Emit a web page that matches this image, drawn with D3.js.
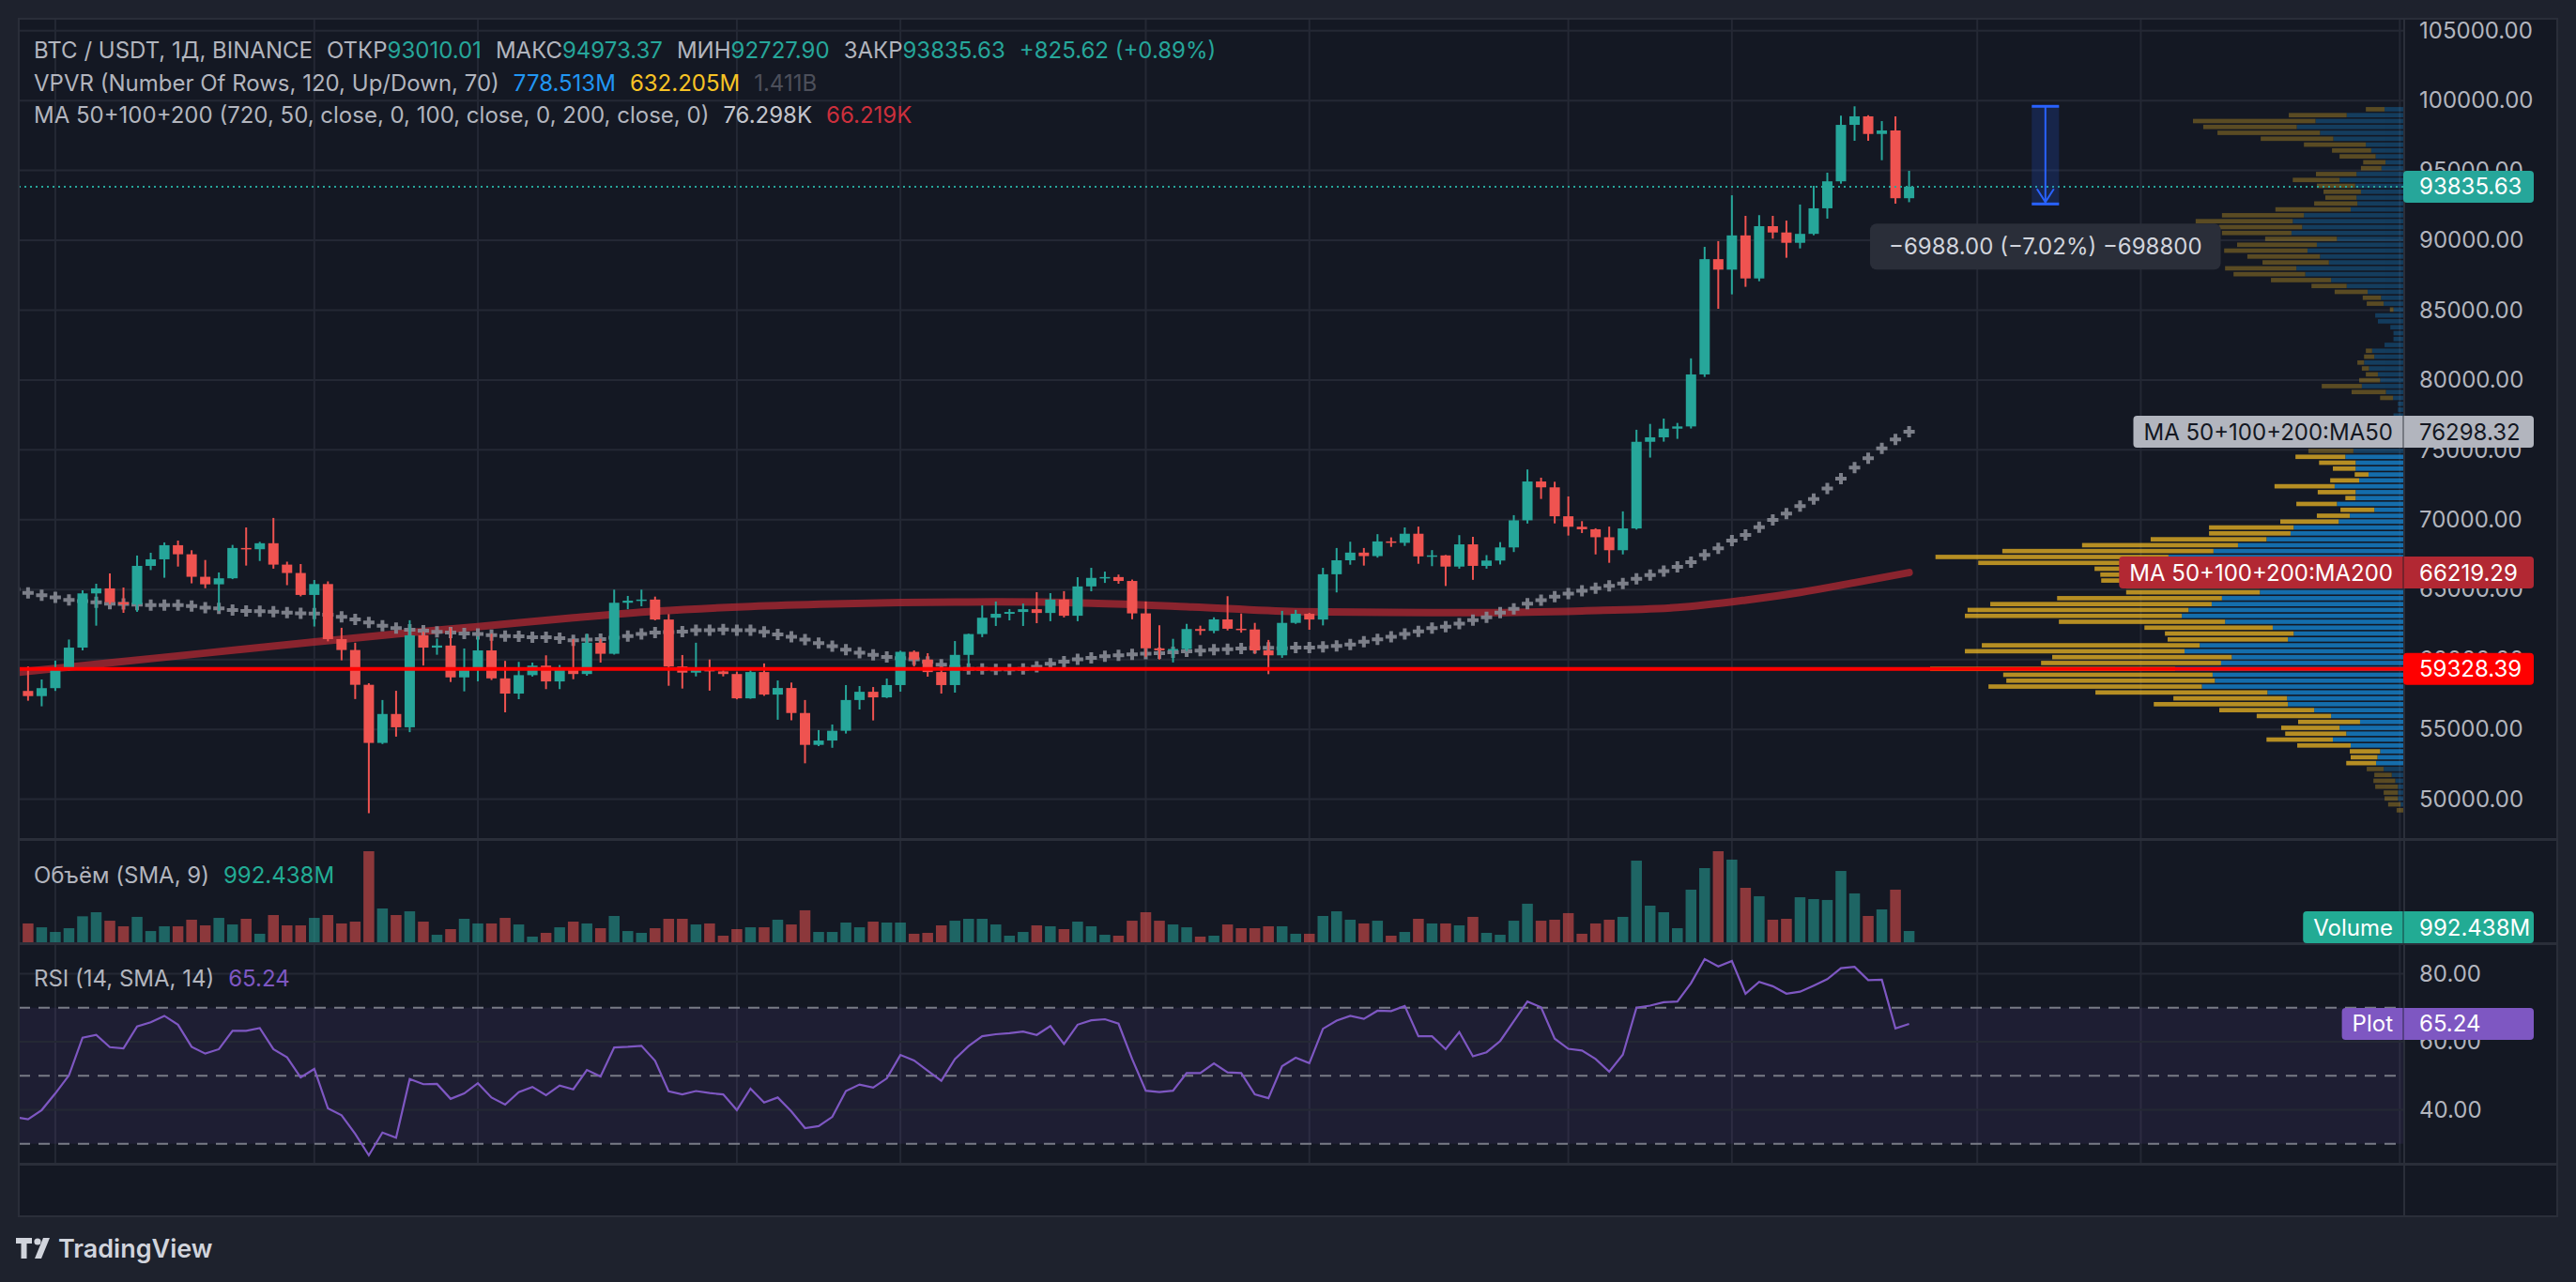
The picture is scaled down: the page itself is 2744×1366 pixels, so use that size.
<!DOCTYPE html>
<html>
<head>
<meta charset="utf-8">
<script src="https://cdn.jsdelivr.net/npm/d3@7"></script>
<style>
  body { margin: 0; background: #1e222d; overflow: hidden; }
  svg { display: block; font-family: Inter, Roboto, "Noto Sans", sans-serif; }
</style>
</head>
<body>
<svg id="chart"></svg>
<script>
// ---- data (BTC/USDT daily, 2024-07-10 .. 2024-11-26) ----
const firstDay = "2024-07-10";
const opens = [58250,57750,57380,57950,59240,60850,64730,65090,64100,63950,66700,67170,68180,67530,65920,65380,65810,67980,67890,68320,66790,66190,
  64620,65400,61460,60680,58190,54030,56100,55150,61730,60850,61000,58720,59280,60650,58650,57560,58880,59560,58430,59310,58960,61200,60410,64060,64210,64290,62860,59500,59060,59310,59150,
  58960,57220,59100,57490,57960,56170,53890,54200,54900,57100,57690,57290,58170,60550,60000,59100,58170,60330,61820,62990,63270,63400,63600,63330,64290,63130,65230,65840,65900,65620,
  63300,60800,60650,60750,62180,62050,62870,62200,62150,60650,60300,62620,63270,62860,66100,67100,67650,67400,68450,68350,69000,67380,67450,66650,68240,66700,67080,68020,69960,72740,72320,
  70250,69500,69320,68750,67820,69380,75580,75900,76520,76680,80400,88650,87900,90350,87270,91010,90560,89820,90460,92290,94220,98260,98870,97610,97860,93010.01];
const highs = [59450,59500,58570,59920,61430,64950,65420,66160,65150,67440,67640,68380,68510,67820,67120,66230,68200,69450,68420,70130,67000,66830,
  65690,65590,62270,61200,58300,57100,57760,62810,61980,61500,62270,60790,61640,61840,59900,59830,59780,60300,59600,61460,61840,61480,65000,64550,65000,64500,63250,60320,61200,60000,59360,
  59130,59400,59720,58500,58350,57100,54950,55350,58170,58100,58030,58640,60630,60650,60450,59500,61320,61850,63870,64150,63610,64000,64820,64750,64890,65890,66560,66290,66080,65720,
  64150,62450,61480,62550,62420,63020,64530,63290,62620,61400,63480,63550,63340,66560,67980,68430,67980,68970,68740,69450,69510,67830,67480,68900,68780,67470,68400,70330,73600,73010,72720,
  71670,69900,69390,69510,70600,76440,76860,77240,76930,81550,89530,89940,93220,91750,91800,91750,91410,92560,93900,94840,98920,99588.01,98950,98530,98870,94973.37];
const lows = [57150,57050,56650,57750,59200,60650,62420,63950,63340,63410,66400,65850,66650,65450,65100,63480,65750,66720,67050,66500,65320,64520,
  62360,61300,59940,57170,49000,53950,54480,54800,59570,60340,58390,57720,58440,58530,56220,57160,58780,57880,57880,58590,58840,59780,60350,63600,63810,62800,58120,57920,58790,57770,58790,
  57150,57190,57400,55690,55650,52570,53800,53680,54700,56420,55640,57240,57700,59500,58770,57560,57630,59200,61600,62400,62800,62400,62600,62740,63010,62740,64880,65480,65420,62880,
  60190,60000,59790,60600,61750,61880,62080,61920,60400,58950,60120,62550,62130,62440,64800,66780,66720,67290,68060,68130,66850,66680,65260,66500,65700,66500,66800,67690,69730,71490,69740,
  68870,69050,67520,66920,67520,69300,74450,75590,75790,76530,80220,85100,86130,86670,87070,90120,88750,89420,90360,91550,94050,97120,97120,95730,92620,92727.90];
const closes = [57750,57380,57950,59240,60850,64730,65090,64100,63950,66700,67170,68180,67530,65920,65380,65810,67980,67890,68320,66790,66190,64620,
  65400,61460,60680,58190,54030,56100,55150,61730,60850,61000,58720,59280,60650,58650,57560,58880,59560,58430,59310,58960,61200,60410,64060,64210,64290,62860,59500,59060,59310,59150,58960,
  57220,59100,57490,57960,56170,53890,54200,54900,57100,57690,57290,58170,60550,60000,59100,58170,60330,61820,62990,63270,63400,63600,63330,64290,63130,65230,65840,65900,65620,63300,
  60800,60650,60750,62180,62050,62870,62200,62150,60650,60300,62620,63270,62860,66100,67100,67650,67400,68450,68350,69000,67380,67450,66650,68240,66700,67080,68020,69960,72740,72320,70250,
  69500,69320,68750,67820,69380,75580,75900,76520,76680,80400,88650,87900,90350,87270,91010,90560,89820,90460,92290,94220,98260,98870,97610,97860,93010.01,93835.63];
// volume in billions USDT
const volumes = [1.38,1.66,1.32,0.91,1.24,2.29,2.65,1.90,1.41,2.24,0.99,1.41,1.41,1.99,1.49,2.15,1.57,2.07,0.75,2.40,1.49,1.49,
  2.15,2.40,1.66,1.82,8.03,2.98,2.40,2.73,1.82,0.66,1.16,2.07,1.66,1.66,2.15,1.57,0.50,0.83,1.32,1.82,1.66,1.24,2.32,0.99,0.83,1.24,2.07,2.07,1.57,1.66,0.58,
  1.16,1.32,1.32,1.99,1.57,2.82,0.91,0.91,1.74,1.32,1.82,1.74,1.74,0.75,0.83,1.49,1.90,2.07,2.07,1.57,0.58,0.91,1.49,1.41,1.16,1.82,1.41,0.66,0.58,1.90,
  2.65,1.90,1.57,1.32,0.50,0.58,1.57,1.24,1.24,1.41,1.41,0.75,0.75,2.32,2.73,1.99,1.66,1.90,0.58,0.91,2.07,1.66,1.66,1.49,2.24,0.83,0.66,1.90,3.40,1.90,1.99,
  2.57,0.75,1.66,1.99,2.24,7.20,3.23,2.65,1.24,4.64,6.54,8.03,7.29,4.80,4.06,1.99,2.07,3.97,3.81,3.73,6.29,4.31,2.32,2.90,4.64,0.992438];
const ma50 = [65040,64770,64600,64440,64260,64180,64100,63990,63980,63930,63900,63900,63890,63830,63700,63660,63540,63470,63460,63430,63360,63300,
  63290,63200,63050,62870,62650,62420,62250,62130,62070,61980,61930,61860,61820,61750,61680,61660,61600,61590,61530,61380,61420,61450,61560,61680,61820,61930,61960,62000,62090,62100,62150,
  62100,62090,61980,61800,61620,61420,61170,60950,60700,60480,60340,60190,60100,60010,59830,59620,59480,59330,59320,59290,59290,59320,59470,59700,59850,60010,60120,60230,60300,60370,
  60410,60450,60520,60590,60630,60700,60740,60790,60830,60830,60810,60850,60850,60900,60970,61080,61280,61440,61620,61820,62020,62250,62350,62560,62820,63020,63360,63630,63990,64240,64500,
  64710,64910,65110,65270,65440,65780,66050,66320,66630,66970,67480,67960,68510,68920,69470,69990,70440,70980,71490,72230,72950,73730,74400,75110,75740,76298.32];
const rsi = [37.9,37.2,39.9,44.8,50.1,61.2,62.0,58.4,58.0,64.5,65.7,67.6,65.0,58.5,56.5,57.8,63.2,63.2,64.0,57.8,55.4,49.5,
  52.0,40.4,38.4,32.9,26.6,33.3,31.8,49.0,47.5,47.6,43.2,44.8,47.8,43.6,41.5,45.2,46.7,44.3,47.1,46.0,51.7,49.8,58.3,58.5,58.8,54.4,45.4,44.5,45.5,44.9,44.5,
  39.9,46.2,42.1,43.6,39.5,34.6,35.2,37.9,45.5,47.4,46.5,49.2,56.1,54.5,51.5,48.5,54.9,58.7,61.6,62.2,62.5,63.0,62.0,64.6,59.3,65.0,66.3,66.6,65.3,54.9,
  45.6,45.2,45.6,50.8,50.8,53.6,51.0,50.8,44.5,43.4,52.8,55.3,53.7,63.8,66.2,67.6,66.7,69.1,69.0,70.5,61.6,61.6,57.8,62.8,55.7,56.9,60.2,66.0,71.8,70.1,60.9,
  57.9,57.4,54.9,51.2,56.2,70.0,70.6,71.6,71.8,77.2,84.3,82.1,83.7,74.1,77.6,76.3,74.1,74.7,76.5,78.4,81.6,82.0,78.1,78.2,63.9,65.24];
// MA200 at weekly points
const ma200Dates = ["2024-07-10","2024-07-17","2024-07-24","2024-08-01","2024-08-07","2024-08-13","2024-08-20","2024-08-26","2024-09-02","2024-09-08",
  "2024-09-13","2024-09-20","2024-09-27","2024-10-04","2024-10-12","2024-10-19","2024-10-26","2024-11-02","2024-11-09","2024-11-14","2024-11-18","2024-11-22","2024-11-26"];
const ma200Values = [59060,59760,60460,61250,61830,62350,62980,63450,63800,63980,64080,64120,64030,63780,63430,63370,63360,63480,63720,64250,64800,65500,66219.29];
// visible range volume profile, 120 rows, listed from the top row down
const vpHigh = 99588.03, vpLow = 49000;
const vpDown = [42,130,275,210,230,163,139,88,81,50, 46,91,105,86,84,70,97,169,184,218, 187,156,161,179,187,163,149,160,161,135,
  79,74,41,38,8,0,0,0,0,0, 0,14,23,15,16,27,47,90,77,29, 0,0,0,25,40,50,60,55,101,112, 82,51,31,65,135,85,23,91,76,74,
  131,190,183,260,350,474,523,464,293,300, 298,300,300,370,497,496,487,373,288,289, 270,489,493,403,404,550,470,468,479,386,
  255,301,213,167,139,131,137,149,120,68, 60,67,38,39,49,51,32,30,28,15];
const vpUp = [42,127,197,239,187,157,84,72,62,40, 49,105,143,108,95,105,103,118,223,248, 227,251,149,194,215,187,167,240,220,162,
  127,80,50,44,22,63,57,29,22,22, 42,70,65,88,77,57,52,93,39,23, 12,12,22,70,95,110,120,110,112,130, 107,107,78,99,154,107,107,149,65,120,
  145,246,253,307,371,426,527,490,400,380, 380,322,322,407,430,482,497,400,293,246, 259,457,491,385,409,512,428,423,452,305,
  261,259,200,162,97,143,128,158,118,52, 58,61,44,26,18,12,12,12,6,0];
const vaRows = [59, 111];
const vpLegend = ["778.513M", "632.205M", "1.411B"];
// axes
const priceTicks = [50000,55000,60000,65000,70000,75000,80000,85000,90000,95000,100000,105000];
const rsiTicks = [80,60,40];
const rsiBands = [70,50,30];
const timeTicks = ["2024-07-13","2024-08-01","2024-08-13","2024-09-01","2024-09-13","2024-10-01","2024-10-13","2024-11-01","2024-11-13","2024-12-01","2024-12-13","2025-01-01"];
const timeLabels = ["13","Авг","13","Сен","13","Окт","13","Ноя","13","Дек","13","2025"];
// measure drawing
const measurePrices = [99588, 92600];
const measureDates = ["2024-12-05","2024-12-07"];

// ---- layout ----
const W = 2744, H = 1366;
const frame = {left: 20, top: 20, right: 2724, bottom: 1296};
const plotRight = 2560;
const mainBottom = 894, volTop = 895, volBottom = 1005, rsiTop = 1006, rsiBottom = 1240;
const UP = "#26a69a", DOWN = "#ef5350", TXT = "#b2b5be", GRID = "#242834";
const FONT = "Inter, Roboto, 'Noto Sans', sans-serif";

const parse = s => new Date(s + "T00:00:00Z");
const days = opens.map((d, i) => d3.utcDay.offset(parse(firstDay), i));

const x = d3.scaleUtc()
  .domain([parse("2024-08-01"), parse("2024-12-01")])
  .range([334.8, 2106.2]);
const y = d3.scaleLinear().domain([50000, 105000]).range([851.6, 32.7]);
const yVol = d3.scaleLinear().domain([0, d3.max(volumes)]).range([1004, 907]);
const yRsi = d3.scaleLinear().domain([30, 70]).range([1218.7, 1073.7]);

const svg = d3.select("#chart").attr("width", W).attr("height", H);
svg.append("rect").attr("width", W).attr("height", H).attr("fill", "#1e222d");
svg.append("rect")
  .attr("x", frame.left).attr("y", frame.top)
  .attr("width", frame.right - frame.left).attr("height", frame.bottom - frame.top)
  .attr("fill", "#141823").attr("stroke", "#2a2e39").attr("stroke-width", 2);

const defs = svg.append("defs");
function clip(id, x0, y0, x1, y1) {
  defs.append("clipPath").attr("id", id).append("rect")
    .attr("x", x0).attr("y", y0).attr("width", x1 - x0).attr("height", y1 - y0);
}
clip("mainClip", frame.left + 1, frame.top + 1, plotRight, mainBottom);
clip("volClip", frame.left + 1, volTop, plotRight, volBottom);
clip("rsiClip", frame.left + 1, rsiTop, plotRight, rsiBottom);
clip("gridClip", frame.left + 1, frame.top + 1, plotRight, rsiBottom);
clip("timeClip", frame.left + 1, rsiBottom, plotRight, frame.bottom);

// ---- grid ----
const grid = svg.append("g").attr("clip-path", "url(#gridClip)");
grid.selectAll("line.h").data(priceTicks).join("line")
  .attr("x1", frame.left).attr("x2", plotRight)
  .attr("y1", d => y(d)).attr("y2", d => y(d))
  .attr("stroke", GRID).attr("stroke-width", 2);
grid.selectAll("line.v").data(timeTicks).join("line")
  .attr("x1", d => x(parse(d))).attr("x2", d => x(parse(d)))
  .attr("y1", frame.top).attr("y2", rsiBottom)
  .attr("stroke", GRID).attr("stroke-width", 2);

// ---- volume profile ----
const vpRows = vpUp.length;
const vpStep = (vpHigh - vpLow) / vpRows;
const vpTotal = vpUp.map((u, i) => u + vpDown[i]);
const vpW = d3.scaleLinear().domain([0, d3.max(vpTotal)]).range([0, 504]);
const vp = svg.append("g").attr("clip-path", "url(#mainClip)");
const rowG = vp.selectAll("g").data(d3.range(vpRows)).join("g")
  .attr("opacity", i => (i >= vaRows[0] && i <= vaRows[1]) ? 0.7 : 0.3);
const rowY = i => y(vpHigh - i * vpStep) + 0.8;
const rowH = i => y(vpHigh - (i + 1) * vpStep) - y(vpHigh - i * vpStep) - 1.6;
rowG.append("rect")
  .attr("x", i => plotRight - vpW(vpUp[i])).attr("width", i => vpW(vpUp[i]))
  .attr("y", rowY).attr("height", rowH).attr("fill", "#1592e6");
rowG.append("rect")
  .attr("x", i => plotRight - vpW(vpTotal[i])).attr("width", i => vpW(vpDown[i]))
  .attr("y", rowY).attr("height", rowH).attr("fill", "#fbc123");
const pocRow = d3.maxIndex(vpTotal);
const pocPrice = vpHigh - (pocRow + 0.5) * vpStep;

// ---- moving averages ----
const main = svg.append("g").attr("clip-path", "url(#mainClip)");
main.append("path")
  .datum(ma200Dates.map((d, i) => [parse(d), ma200Values[i]]))
  .attr("d", d3.line().x(d => x(d[0])).y(d => y(d[1])).curve(d3.curveMonotoneX))
  .attr("fill", "none").attr("stroke", "#b22833").attr("stroke-width", 8)
  .attr("stroke-opacity", 0.75).attr("stroke-linecap", "round");
main.selectAll("path.ma50").data(ma50).join("path")
  .attr("class", "ma50")
  .attr("d", d3.symbol().type(d3.symbolCross).size(80))
  .attr("transform", (d, i) => `translate(${x(days[i])},${y(d)})`)
  .attr("fill", "#868993").attr("opacity", 0.92);

// ---- candles ----
const candles = main.selectAll("g.candle").data(days).join("g").attr("class", "candle");
const col = i => closes[i] >= opens[i] ? UP : DOWN;
candles.append("line")
  .attr("x1", d => x(d)).attr("x2", d => x(d))
  .attr("y1", (d, i) => y(highs[i])).attr("y2", (d, i) => y(lows[i]))
  .attr("stroke", (d, i) => col(i)).attr("stroke-width", 2);
candles.append("rect")
  .attr("x", d => x(d) - 5.5).attr("width", 11)
  .attr("y", (d, i) => y(Math.max(opens[i], closes[i])))
  .attr("height", (d, i) => Math.max(1.5, Math.abs(y(opens[i]) - y(closes[i]))))
  .attr("fill", (d, i) => col(i));

// POC line and last price line
main.append("line").attr("x1", frame.left).attr("x2", plotRight)
  .attr("y1", y(pocPrice)).attr("y2", y(pocPrice))
  .attr("stroke", "#ff0000").attr("stroke-width", 4);
const lastClose = closes[closes.length - 1];
main.append("line").attr("x1", frame.left).attr("x2", plotRight)
  .attr("y1", y(lastClose)).attr("y2", y(lastClose))
  .attr("stroke", UP).attr("stroke-width", 2).attr("stroke-dasharray", "2,4");

// ---- measure tool ----
const mx0 = x(parse(measureDates[0])), mx1 = x(parse(measureDates[1]));
const mxc = (mx0 + mx1) / 2;
const my0 = y(measurePrices[0]), my1 = y(measurePrices[1]);
const ms = main.append("g");
ms.append("rect").attr("x", mx0).attr("width", mx1 - mx0).attr("y", my0).attr("height", my1 - my0)
  .attr("fill", "#2962ff").attr("fill-opacity", 0.18);
ms.append("line").attr("x1", mxc).attr("x2", mxc).attr("y1", my0).attr("y2", my1)
  .attr("stroke", "#2962ff").attr("stroke-width", 2);
[my0, my1].forEach(v => ms.append("line").attr("x1", mx0).attr("x2", mx1).attr("y1", v).attr("y2", v)
  .attr("stroke", "#2962ff").attr("stroke-width", 3));
ms.append("path").attr("d", `M${mxc - 9},${my1 - 16}L${mxc},${my1 - 2}L${mxc + 9},${my1 - 16}`)
  .attr("fill", "none").attr("stroke", "#2962ff").attr("stroke-width", 2);
const diff = measurePrices[1] - measurePrices[0];
const pct = diff / measurePrices[0] * 100;
const sign = v => v < 0 ? "\u2212" : "";
const tipText = `${sign(diff)}${Math.abs(diff).toFixed(2)} (${sign(pct)}${Math.abs(pct).toFixed(2)}%) ${sign(diff)}${Math.abs(diff * 100)}`;
const tip = svg.append("g");
const tipT = tip.append("text").attr("x", mxc).attr("y", my1 + 21 + 33).attr("text-anchor", "middle")
  .attr("font-size", 24).attr("fill", "#d1d4dc").text(tipText);
const tw = tipT.node().getComputedTextLength();
tip.insert("rect", "text").attr("x", mxc - tw / 2 - 20).attr("width", tw + 40)
  .attr("y", my1 + 21).attr("height", 49).attr("rx", 7).attr("fill", "#2a2e39");

// ---- volume pane ----
const vol = svg.append("g").attr("clip-path", "url(#volClip)");
vol.selectAll("rect").data(volumes).join("rect")
  .attr("x", (d, i) => x(days[i]) - 5.75).attr("width", 11.5)
  .attr("y", d => yVol(d)).attr("height", d => yVol(0) - yVol(d))
  .attr("fill", (d, i) => col(i)).attr("opacity", 0.55);

// ---- RSI pane ----
const rsiG = svg.append("g").attr("clip-path", "url(#rsiClip)");
rsiG.append("rect").attr("x", frame.left).attr("width", plotRight - frame.left)
  .attr("y", yRsi(70)).attr("height", yRsi(30) - yRsi(70))
  .attr("fill", "#7e57c2").attr("fill-opacity", 0.1);
rsiG.selectAll("line.g").data(rsiTicks).join("line")
  .attr("x1", frame.left).attr("x2", plotRight).attr("y1", d => yRsi(d)).attr("y2", d => yRsi(d))
  .attr("stroke", GRID).attr("stroke-width", 2);
rsiG.selectAll("line.b").data(rsiBands).join("line")
  .attr("x1", frame.left).attr("x2", plotRight).attr("y1", d => yRsi(d)).attr("y2", d => yRsi(d))
  .attr("stroke", "#787b86").attr("stroke-width", 2).attr("stroke-dasharray", "12,9");
rsiG.append("path").datum(rsi)
  .attr("d", d3.line().x((d, i) => x(days[i])).y(d => yRsi(d)))
  .attr("fill", "none").attr("stroke", "#7e57c2").attr("stroke-width", 2.2);

// ---- pane separators ----
[mainBottom, volBottom, rsiBottom].forEach(v => svg.append("line")
  .attr("x1", frame.left).attr("x2", frame.right).attr("y1", v + 0.5).attr("y2", v + 0.5)
  .attr("stroke", "#2a2e39").attr("stroke-width", 3));
svg.append("line").attr("x1", plotRight + 1).attr("x2", plotRight + 1)
  .attr("y1", frame.top).attr("y2", frame.bottom).attr("stroke", "#2a2e39").attr("stroke-width", 2);

// ---- axes ----
function styleAxis(g) {
  g.select(".domain").remove();
  g.selectAll("text").attr("fill", TXT).attr("font-size", 24).attr("font-family", FONT);
}
svg.append("g").attr("transform", `translate(${plotRight},0)`)
  .call(d3.axisRight(y).tickValues(priceTicks).tickSize(0).tickPadding(17).tickFormat(d3.format(".2f")))
  .call(styleAxis);
svg.append("g").attr("transform", `translate(${plotRight},0)`)
  .call(d3.axisRight(yRsi).tickValues(rsiTicks).tickSize(0).tickPadding(17).tickFormat(d3.format(".2f")))
  .call(styleAxis);
svg.append("g").attr("transform", "translate(0,1261)").attr("clip-path", "url(#timeClip)")
  .call(d3.axisBottom(x).tickValues(timeTicks.map(parse)).tickSize(0).tickPadding(0)
    .tickFormat((d, i) => timeLabels[i]))
  .call(styleAxis);

// ---- price tags on the right scale ----
function tag(cy, value, fill, fg, name) {
  const g = svg.append("g");
  const h = 34;
  let left = plotRight;
  if (name) {
    const t = g.append("text").attr("y", cy + 8.5).attr("font-size", 24).attr("fill", fg).text(name);
    const w = t.node().getComputedTextLength();
    left = plotRight - w - 22;
    t.attr("x", left + 11);
  }
  g.insert("rect", "text").attr("x", left).attr("y", cy - h / 2).attr("width", 2699 - left).attr("height", h)
    .attr("rx", 4).attr("fill", fill);
  if (name) g.append("line").attr("x1", plotRight).attr("x2", plotRight)
    .attr("y1", cy - h / 2).attr("y2", cy + h / 2).attr("stroke", "#131722").attr("stroke-opacity", 0.5).attr("stroke-width", 1.5);
  g.append("text").attr("x", plotRight + 17).attr("y", cy + 8.5).attr("font-size", 24).attr("fill", fg).text(value);
}
const f2 = d3.format(".2f");
tag(y(lastClose), f2(lastClose), UP, "#ffffff");
tag(y(ma50[ma50.length - 1]), f2(ma50[ma50.length - 1]), "#b2b5be", "#131722", "MA 50+100+200:MA50");
const ma200Last = ma200Values[ma200Values.length - 1];
tag(y(ma200Last), f2(ma200Last), "#b22833", "#ffffff", "MA 50+100+200:MA200");
tag(y(pocPrice), f2(pocPrice), "#ff0000", "#ffffff");
const lastVol = volumes[volumes.length - 1];
const volLabel = d3.format(".3f")(lastVol * 1000) + "M";
tag(Math.min(yVol(lastVol), volBottom - 17), volLabel, "#22ab94", "#ffffff", "Volume");
const lastRsi = rsi[rsi.length - 1];
tag(yRsi(lastRsi), f2(lastRsi), "#7e57c2", "#ffffff", "Plot");

// ---- legends: segments flow left to right, gap before a new group ----
function legend(items, baseline) {
  let cx = 36;
  items.forEach(it => {
    if (it[2]) cx += 15;
    const t = svg.append("text").attr("x", cx).attr("y", baseline)
      .attr("font-size", 24).attr("fill", it[1]).text(it[0]);
    cx += t.node().getComputedTextLength();
  });
}
const n = closes.length - 1;
const chg = closes[n] - closes[n - 1];
const chgPct = chg / closes[n - 1] * 100;
legend([
  ["BTC / USDT, 1Д, BINANCE", TXT],
  ["ОТКР", TXT, true], [f2(opens[n]), UP],
  ["МАКС", TXT, true], [f2(highs[n]), UP],
  ["МИН", TXT, true], [f2(lows[n]), UP],
  ["ЗАКР", TXT, true], [f2(closes[n]), UP],
  [`+${f2(chg)} (+${f2(chgPct)}%)`, UP, true]
], 62);
legend([
  ["VPVR (Number Of Rows, 120, Up/Down, 70)", TXT],
  [vpLegend[0], "#2196f3", true], [vpLegend[1], "#f7c325", true], [vpLegend[2], "#4c4f5a", true]
], 97);
legend([
  ["MA 50+100+200 (720, 50, close, 0, 100, close, 0, 200, close, 0)", TXT],
  [(ma50[n] / 1000).toFixed(3) + "K", "#c3c5cc", true],
  [(ma200Last / 1000).toFixed(3) + "K", "#cc2f3c", true]
], 131);
legend([["Объём (SMA, 9)", TXT], [volLabel, "#22ab94", true]], 941);
legend([["RSI (14, SMA, 14)", TXT], [f2(lastRsi), "#7e57c2", true]], 1051);

// ---- TradingView mark ----
const logo = svg.append("g").attr("fill", "#d1d4dc");
logo.append("path").attr("d", "M17,1319h17v6h-5.5v16h-6v-16h-5.5z");
logo.append("circle").attr("cx", 40).attr("cy", 1323).attr("r", 3.6);
logo.append("path").attr("d", "M46,1319h7l-9,22h-7z");
logo.append("text").attr("x", 62).attr("y", 1340).attr("font-size", 27).attr("font-weight", 600)
  .attr("fill", "#d1d4dc").text("TradingView");
</script>
</body>
</html>
